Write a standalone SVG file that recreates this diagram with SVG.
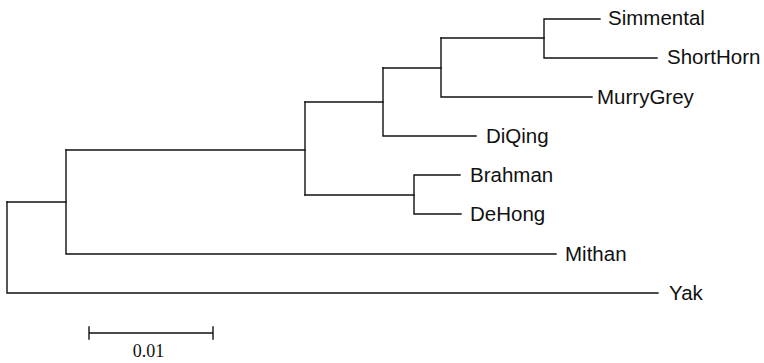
<svg xmlns="http://www.w3.org/2000/svg" width="764" height="363" viewBox="0 0 764 363">
  <style>
    .br { fill: none; stroke: #111; stroke-width: 1.4; stroke-linecap: square; }
    .lab { font-family: "Liberation Sans", Arial, sans-serif; font-size: 20.5px; fill: #111; }
    .sc { font-family: "Liberation Serif", "Times New Roman", serif; font-size: 18px; fill: #111; }
  </style>
  <rect width="764" height="363" fill="#fff"/>

  <!-- tree branches (rectangular cladogram) -->
  <g id="connectors">
    <!-- root -->
    <path class="br" d="M7,202 V293 H658"/>
    <path class="br" d="M7,202 H66"/>
    <!-- node F: Mithan + cattle -->
    <path class="br" d="M66,150 V254 H556"/>
    <path class="br" d="M66,150 H305"/>
    <!-- node E -->
    <path class="br" d="M305,102 V195"/>
    <path class="br" d="M305,102 H383"/>
    <path class="br" d="M305,195 H414"/>
    <!-- node D: Brahman / DeHong -->
    <path class="br" d="M460,175 H414 V214 H461"/>
    <!-- node C -->
    <path class="br" d="M383,68 V136 H476"/>
    <path class="br" d="M383,68 H441"/>
    <!-- node B -->
    <path class="br" d="M441,38 V97 H592"/>
    <path class="br" d="M441,38 H544"/>
    <!-- node A: Simmental / ShortHorn -->
    <path class="br" d="M600,19 H544 V58 H657"/>
  </g>

  <!-- leaf labels -->
  <g id="Simmental"><text class="lab" x="608" y="25">Simmental</text></g>
  <g id="ShortHorn"><text class="lab" x="667" y="64">ShortHorn</text></g>
  <g id="MurryGrey"><text class="lab" x="597" y="104">MurryGrey</text></g>
  <g id="DiQing"><text class="lab" x="486" y="143">DiQing</text></g>
  <g id="Brahman"><text class="lab" x="470" y="182">Brahman</text></g>
  <g id="DeHong"><text class="lab" x="470" y="221">DeHong</text></g>
  <g id="Mithan"><text class="lab" x="565" y="261">Mithan</text></g>
  <g id="Yak"><text class="lab" x="669" y="300">Yak</text></g>

  <!-- scale bar -->
  <g id="scale">
    <path class="br" d="M89,333 H213 M89,327 V339 M213,327 V339" stroke-linecap="butt"/>
    <text class="sc" x="148.5" y="357" text-anchor="middle">0.01</text>
  </g>
</svg>
